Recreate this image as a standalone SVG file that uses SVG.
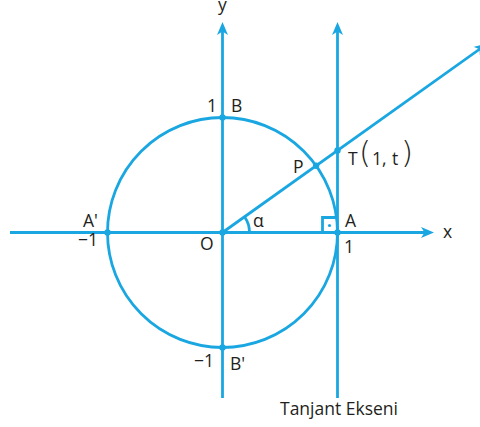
<svg xmlns="http://www.w3.org/2000/svg" width="480" height="427" viewBox="0 0 480 427">
<style>
.ln{stroke:#1aa7e1;stroke-width:2.8;fill:none}
.dot{fill:#1aa7e1}
text{font-family:"Open Sans","Liberation Sans",sans-serif;font-size:17.5px;fill:#231f20}
.par{font-size:31px;font-family:"DejaVu Sans","Open Sans",sans-serif;font-weight:200}
</style>
<defs>
<marker id="arr" markerUnits="userSpaceOnUse" markerWidth="13" markerHeight="11" viewBox="0 0 13 11" refX="9" refY="5.5" orient="auto">
<path d="M0,0 L13,5.5 L0,11 L3.5,5.5 z" fill="#1aa7e1"/>
</marker>
</defs>
<rect width="480" height="427" fill="#fff"/>
<g id="connectors">
<line class="ln" x1="10" y1="232.5" x2="430" y2="232.5" marker-end="url(#arr)"/>
<line class="ln" x1="222.5" y1="398" x2="222.5" y2="26" marker-end="url(#arr)"/>
<line class="ln" x1="337.5" y1="398" x2="337.5" y2="26" marker-end="url(#arr)"/>
<line class="ln" x1="222.5" y1="232.5" x2="484" y2="46" marker-end="url(#arr)"/>
<path class="ln" d="M249.5,232.5 A27,27 0 0 0 244.5,216.8" stroke-width="2"/>
<path class="ln" d="M322.5,232.5 V217.5 H337.5" stroke-width="2"/>
<circle class="dot" cx="329.5" cy="225.5" r="1.6"/>
</g>
<g id="circle">
<circle class="ln" cx="222.5" cy="232.5" r="115"/>
</g>
<g id="points">
<circle class="dot" cx="222.5" cy="232.5" r="3.2"/>
<circle class="dot" cx="337.5" cy="232.5" r="3.2"/>
<circle class="dot" cx="107.5" cy="232.5" r="3.2"/>
<circle class="dot" cx="222.5" cy="117.5" r="3.2"/>
<circle class="dot" cx="222.5" cy="347.5" r="3.2"/>
<circle class="dot" cx="316.1" cy="165.7" r="3.2"/>
<circle class="dot" cx="337.5" cy="150.5" r="3.2"/>
</g>
<g id="labels">
<text x="222.5" y="11" text-anchor="middle">y</text>
<text x="212" y="112" text-anchor="middle">1</text>
<text x="231" y="112">B</text>
<text x="293" y="172.5">P</text>
<text x="348" y="165">T</text>
<text class="par" x="359" y="163">(</text>
<text x="372" y="165">1,</text>
<text x="392" y="165">t</text>
<text class="par" x="401" y="163">)</text>
<text x="345" y="226.5">A</text>
<text x="344" y="253">1</text>
<text x="443" y="238">x</text>
<text x="83" y="227">A'</text>
<text x="78" y="246">−1</text>
<text x="200" y="250">O</text>
<text x="253" y="226.5">α</text>
<text x="194" y="366.5">−1</text>
<text x="230" y="370">B'</text>
<text x="280" y="415">Tanjant Ekseni</text>
</g>
</svg>
